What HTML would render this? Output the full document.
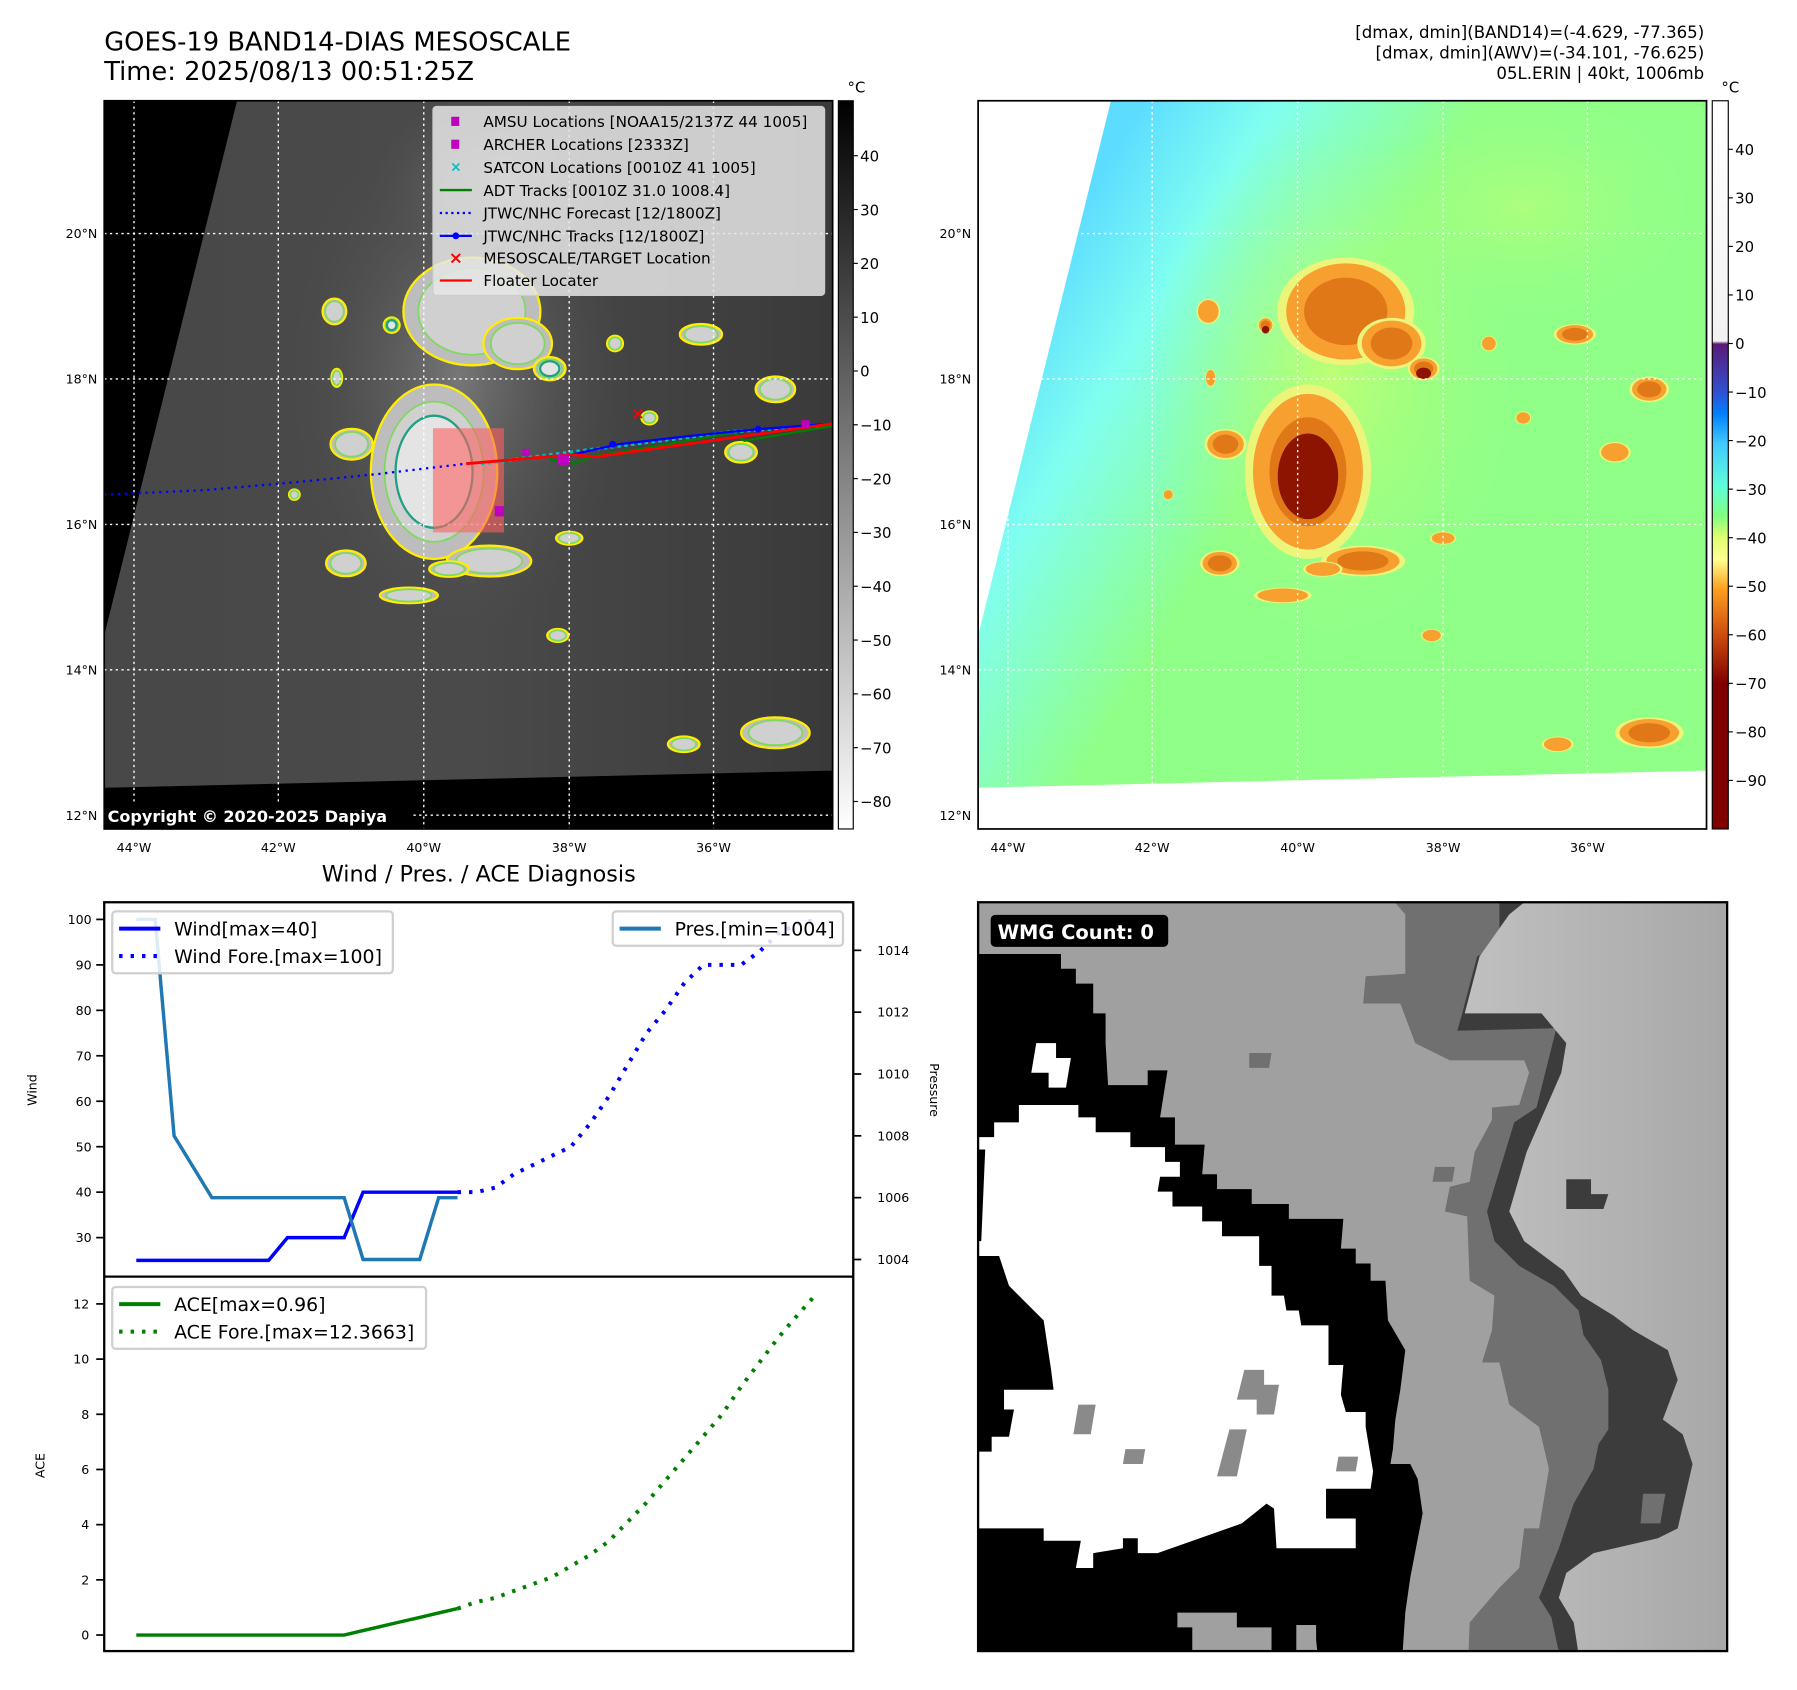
<!DOCTYPE html>
<html><head><meta charset="utf-8"><style>
html,body{margin:0;padding:0;background:#fff;}
svg{display:block;}
text{font-family:"DejaVu Sans","Liberation Sans",sans-serif;}
</style></head><body>
<svg id="fig" xmlns="http://www.w3.org/2000/svg" width="1797" height="1690" viewBox="0 0 1569 1476" preserveAspectRatio="none">
<defs>
<linearGradient id="cb1" x1="0" y1="0" x2="0" y2="1"><stop offset="0" stop-color="#000"/><stop offset="1" stop-color="#fff"/></linearGradient>
<linearGradient id="cb2" gradientUnits="userSpaceOnUse" x1="0" y1="88" x2="0" y2="724">
<stop offset="0" stop-color="#ffffff"/><stop offset="0.33" stop-color="#f2f2f2"/>
<stop offset="0.334" stop-color="#5a1a78"/>
<stop offset="0.40" stop-color="#3050d0"/><stop offset="0.43" stop-color="#0080ff"/>
<stop offset="0.47" stop-color="#40c8ff"/><stop offset="0.53" stop-color="#60ffd8"/>
<stop offset="0.57" stop-color="#80ff80"/><stop offset="0.60" stop-color="#e0ff70"/>
<stop offset="0.63" stop-color="#ffff90"/><stop offset="0.67" stop-color="#ffa020"/>
<stop offset="0.73" stop-color="#d05010"/><stop offset="0.80" stop-color="#800000"/>
<stop offset="1" stop-color="#800000"/></linearGradient>
<linearGradient id="m2bg" gradientUnits="userSpaceOnUse" x1="900" y1="250" x2="1120" y2="380">
<stop offset="0" stop-color="#5cdcff"/><stop offset="0.4" stop-color="#80fff0"/><stop offset="1" stop-color="#90ff88"/></linearGradient>
<linearGradient id="m1bg" gradientUnits="userSpaceOnUse" x1="100" y1="0" x2="727" y2="0">
<stop offset="0" stop-color="#484848"/><stop offset="0.5" stop-color="#4a4a4a"/><stop offset="1" stop-color="#3a3a3a"/></linearGradient>
<radialGradient id="m1glow" cx="0.5" cy="0.5" r="0.5"><stop offset="0" stop-color="#8a8a8a"/><stop offset="1" stop-color="#505050" stop-opacity="0"/></radialGradient>
<radialGradient id="m2glow" cx="0.5" cy="0.5" r="0.5"><stop offset="0" stop-color="#c8ff70"/><stop offset="1" stop-color="#a0ff80" stop-opacity="0"/></radialGradient>
<linearGradient id="wmgLight" x1="0" y1="0" x2="1" y2="0"><stop offset="0" stop-color="#c0c0c0"/><stop offset="1" stop-color="#a4a4a4"/></linearGradient>
<clipPath id="clipM1"><rect x="91" y="88" width="636" height="636"/></clipPath>
<clipPath id="clipM2"><rect x="854" y="88" width="636" height="636"/></clipPath>
<clipPath id="clipC1"><rect x="91" y="788" width="654" height="327"/></clipPath>
<clipPath id="clipC2"><rect x="91" y="1115" width="654" height="327"/></clipPath>
<clipPath id="clipW"><rect x="854" y="788" width="654" height="654"/></clipPath>
</defs>

<text x="91" y="44" font-size="22.5">GOES-19 BAND14-DIAS MESOSCALE</text>
<text x="91" y="70" font-size="22.5">Time: 2025/08/13 00:51:25Z</text>
<g font-size="14.5" text-anchor="end">
<text x="1488" y="33">[dmax, dmin](BAND14)=(-4.629, -77.365)</text>
<text x="1488" y="51">[dmax, dmin](AWV)=(-34.101, -76.625)</text>
<text x="1488" y="69">05L.ERIN | 40kt, 1006mb</text>
</g>

<!-- MAP 1 -->
<g clip-path="url(#clipM1)">
<rect x="91" y="88" width="636" height="636" fill="#000"/>
<polygon points="207,88 727,88 727,673 91,688 91,555" fill="url(#m1bg)"/>
<g id="m1blobs"></g>
<g id="m1grid"></g>
<rect x="378" y="374" width="62" height="91" fill="#ff6060" fill-opacity="0.6"/>
<polyline points="91,432 180,428 260,421 330,414 407,405" fill="none" stroke="#0000ff" stroke-width="2" stroke-dasharray="2,4"/>
<polyline points="420,405 560,387 640,377 727,371" fill="none" stroke="#00c0c0" stroke-width="3" stroke-dasharray="3,3"/>
<polyline points="480,401 500,405 520,398 560,392 640,378 650,385 727,372" fill="none" stroke="#008000" stroke-width="2"/>
<polyline points="495,398 540,388 600,381 660,375 727,370" fill="none" stroke="#0000ff" stroke-width="2"/>
<circle cx="535" cy="388" r="3" fill="#0000ff"/><circle cx="662" cy="375" r="3" fill="#0000ff"/>
<polyline points="407,405 500,397 520,399 727,370" fill="none" stroke="#ff0000" stroke-width="2.5"/>
<rect x="432" y="442" width="8" height="9" fill="#c000c0"/>
<rect x="487" y="397" width="10" height="9" fill="#c000c0"/>
<rect x="456" y="392" width="6" height="6" fill="#c000c0"/>
<rect x="700" y="367" width="7" height="7" fill="#c000c0"/>
<text x="557" y="366" font-size="14" fill="#ff0000" text-anchor="middle" font-weight="bold">×</text>
<rect x="91" y="700" width="270" height="24" fill="#000"/>
<text x="94" y="718" font-size="14" font-weight="bold" fill="#fff">Copyright © 2020-2025 Dapiya</text>
<g>
<rect x="378" y="93" width="342" height="165" rx="3" fill="#e6e6e6" fill-opacity="0.85" stroke="#cccccc"/>
<rect x="394" y="102" width="7" height="8" fill="#c000c0"/><text x="422" y="111" font-size="13.3">AMSU Locations [NOAA15/2137Z 44 1005]</text>
<rect x="394" y="122" width="7" height="8" fill="#c000c0"/><text x="422" y="131" font-size="13.3">ARCHER Locations [2333Z]</text>
<text x="398" y="150" font-size="12" fill="#00c0c0" text-anchor="middle" font-weight="bold">×</text><text x="422" y="151" font-size="13.3">SATCON Locations [0010Z 41 1005]</text>
<line x1="384" y1="166" x2="412" y2="166" stroke="#008000" stroke-width="2"/><text x="422" y="171" font-size="13.3">ADT Tracks [0010Z 31.0 1008.4]</text>
<line x1="384" y1="186" x2="412" y2="186" stroke="#0000ff" stroke-width="2" stroke-dasharray="2,3"/><text x="422" y="191" font-size="13.3">JTWC/NHC Forecast [12/1800Z]</text>
<line x1="384" y1="206" x2="412" y2="206" stroke="#0000ff" stroke-width="2"/><circle cx="398" cy="206" r="3" fill="#0000ff"/><text x="422" y="211" font-size="13.3">JTWC/NHC Tracks [12/1800Z]</text>
<text x="398" y="230" font-size="15" fill="#ff0000" text-anchor="middle" font-weight="bold">×</text><text x="422" y="230" font-size="13.3">MESOSCALE/TARGET Location</text>
<line x1="384" y1="245" x2="412" y2="245" stroke="#ff0000" stroke-width="2"/><text x="422" y="250" font-size="13.3">Floater Locater</text>
</g>
</g>
<rect x="91" y="88" width="636" height="636" fill="none" stroke="#000" stroke-width="1.5"/>
<rect x="732" y="88" width="13" height="636" fill="url(#cb1)" stroke="#000" stroke-width="1"/>
<text x="740" y="81" font-size="13">°C</text>
<g id="cb1ticks" font-size="13"></g>

<!-- MAP 2 -->
<g clip-path="url(#clipM2)">
<rect x="854" y="88" width="636" height="636" fill="#fff"/>
<polygon points="970,88 1490,88 1490,673 854,688 854,555" fill="url(#m2bg)"/>
<g id="m2blobs"></g>
<g id="m2grid"></g>
</g>
<rect x="854" y="88" width="636" height="636" fill="none" stroke="#000" stroke-width="1.5"/>
<rect x="1495" y="88" width="14" height="636" fill="url(#cb2)" stroke="#000" stroke-width="1"/>
<text x="1503" y="81" font-size="13">°C</text>
<g id="cb2ticks" font-size="13"></g>
<g id="maplabels" font-size="11"></g>

<!-- CHART -->
<text x="418" y="770" font-size="19.5" text-anchor="middle">Wind / Pres. / ACE Diagnosis</text>
<g id="chart"></g>
<rect x="91" y="788" width="654" height="654" fill="none" stroke="#000" stroke-width="2"/>
<line x1="91" y1="1115" x2="745" y2="1115" stroke="#000" stroke-width="2"/>

<!-- WMG -->
<g clip-path="url(#clipW)">
<g transform="translate(850.7,781.25) scale(0.4325)">
<rect x="0" y="0" width="1600" height="1600" fill="#a0a0a0"/>
<polygon points="835,0 870,40 870,160 790,165 785,220 860,220 890,300 960,335 1110,335 1120,360 1100,425 1045,430 1045,455 1010,520 1000,580 960,590 950,640 995,650 1000,780 1050,810 1045,880 1025,945 1060,945 1080,1030 1140,1075 1160,1160 1140,1280 1110,1280 1100,1360 1060,1400 1000,1470 995,1600 1600,1600 1600,0" fill="#707070"/>
<polygon points="1000,0 1060,0 1060,100 1015,125 985,240 975,275 1175,270 1160,330 1135,430 1090,460 1035,640 1050,700 1100,750 1170,790 1220,840 1230,890 1265,940 1280,1000 1280,1080 1260,1110 1250,1160 1210,1230 1180,1320 1140,1420 1165,1460 1195,1600 1600,1600 1600,0" fill="#3c3c3c"/>
<polygon points="1130,0 1080,40 1020,125 990,240 1145,240 1170,270 1195,300 1185,360 1150,440 1115,520 1080,640 1110,700 1190,760 1225,810 1290,850 1330,880 1400,920 1420,980 1390,1060 1430,1090 1450,1150 1420,1280 1380,1300 1250,1330 1195,1370 1180,1420 1210,1470 1230,1600 1600,1600 1600,0" fill="url(#wmgLight)"/>
<polygon points="1195,575 1245,575 1245,605 1280,605 1270,635 1195,635" fill="#3c3c3c"/>
<polygon points="1350,1210 1395,1210 1385,1270 1345,1270" fill="#707070"/>
<polygon points="555,320 600,320 595,350 555,350" fill="#707070"/>
<polygon points="930,550 970,550 965,580 925,580" fill="#707070"/>
<polygon points="0,120 175,120 175,150 205,150 205,180 240,180 240,240 265,240 265,300 270,385 350,385 350,355 390,355 375,450 405,450 405,505 465,505 460,565 490,565 490,595 560,595 560,625 635,625 635,655 745,655 740,715 770,715 770,745 800,745 800,780 830,780 835,860 870,920 860,1000 850,1060 845,1120 840,1150 880,1150 895,1180 905,1250 880,1380 870,1450 860,1600 0,1600" fill="#000"/>
<polygon points="410,1450 530,1450 530,1480 600,1480 600,1600 440,1600 440,1480 410,1480" fill="#a0a0a0"/>
<polygon points="650,1475 690,1475 690,1505 700,1600 650,1600" fill="#a0a0a0"/>
<polygon points="0,490 40,490 40,460 90,460 90,425 210,425 210,450 245,450 245,480 315,480 315,510 385,510 385,540 415,540 415,570 375,570 370,600 400,600 400,630 460,630 460,660 500,660 500,690 575,690 575,750 600,750 600,810 625,810 630,840 655,840 660,870 715,870 715,950 745,950 740,1010 750,1045 790,1045 790,1075 805,1165 800,1200 710,1200 710,1260 770,1260 770,1320 610,1320 605,1240 590,1230 540,1270 370,1330 330,1330 330,1300 300,1300 300,1320 240,1330 240,1360 205,1360 215,1305 140,1305 140,1280 0,1280" fill="#fff"/>
<polygon points="0,515 22,515 14,700 0,700" fill="#000"/>
<polygon points="0,730 50,730 70,790 100,820 140,860 155,960 160,1000 60,1000 60,1040 80,1040 70,1095 35,1095 35,1125 0,1125" fill="#000"/>
<polygon points="125,300 165,300 165,330 195,330 185,390 150,390 150,360 115,360" fill="#fff"/>
<polygon points="545,960 585,960 585,990 615,990 605,1050 570,1050 570,1020 530,1020" fill="#8a8a8a"/>
<polygon points="210,1030 245,1030 235,1090 200,1090" fill="#8a8a8a"/>
<polygon points="305,1120 345,1120 340,1150 300,1150" fill="#8a8a8a"/>
<polygon points="515,1080 550,1080 530,1175 490,1175" fill="#8a8a8a"/>
<polygon points="735,1135 775,1135 770,1165 730,1165" fill="#8a8a8a"/>
</g>
<rect x="865" y="799" width="155" height="28" rx="4" fill="#000"/>
<text x="871" y="820" font-size="17" font-weight="bold" fill="#fff">WMG Count: 0</text>
</g>
<rect x="854" y="788" width="654" height="654" fill="none" stroke="#000" stroke-width="2"/>
</svg>

<script>
// ===== chart data =====
const windHist = [25,25,25,25,25,25,25,25,30,30,30,30,40,40,40,40,40,40];
const presHist = [1015,1015,1008,1007,1006,1006,1006,1006,1006,1006,1006,1006,1004,1004,1004,1004,1006,1006];
const aceHist = [0,0,0,0,0,0,0,0,0,0,0,0,0.16,0.32,0.48,0.64,0.8,0.96];
const windFore = [40,40,41,44,46,48,50,55,61,68,75,80,86,90,90,90,93,97,99,100];
const aceFore = [0.96,1.2,1.35,1.6,1.85,2.1,2.5,2.9,3.4,4.1,4.8,5.6,6.4,7.2,8.0,9.0,9.9,10.8,11.6,12.37];
const windTicks = [30,40,50,60,70,80,90,100];
const presTicks = [1004,1006,1008,1010,1012,1014];
const aceTicks = [0,2,4,6,8,10,12];
const cb1Ticks = [40,30,20,10,0,-10,-20,-30,-40,-50,-60,-70,-80];
const cb2Ticks = [40,30,20,10,0,-10,-20,-30,-40,-50,-60,-70,-80,-90];
const lonTicks = ['44°W','42°W','40°W','38°W','36°W'];
const latTicks = ['20°N','18°N','16°N','14°N','12°N'];

const NS='http://www.w3.org/2000/svg';
function mk(parent,tag,attrs,txt){const e=document.createElementNS(NS,tag);for(const k in attrs)e.setAttribute(k,attrs[k]);if(txt!==undefined)e.textContent=txt;parent.appendChild(e);return e;}

const xS = i => 119 + i*16.5;
const yWind = v => 803 + (100-v)*3.97;
const yPres = p => 1100 - (p-1004)*27;
const yAce = v => 1428 - v*24.1;
const yCb1 = v => 324 - v*4.7;
const yCb2 = v => 300 - v*4.24;

const cb1=document.getElementById('cb1ticks');
cb1Ticks.forEach(v=>{
  const y=yCb1(v);
  mk(cb1,'line',{x1:745,y1:y,x2:749,y2:y,stroke:'#000'});
  const t=mk(cb1,'text',{x:751,y:y+5},String(v).replace('-','−'));
  
  
});
const cb2=document.getElementById('cb2ticks');
cb2Ticks.forEach(v=>{
  const y=yCb2(v);
  mk(cb2,'line',{x1:1509,y1:y,x2:1513,y2:y,stroke:'#000'});
  const t=mk(cb2,'text',{x:1515,y:y+5},String(v).replace('-','−'));
  
  
});

const lonX=[117,243,370,497,623], latY=[204,331,458,585,712];
[['m1grid',0],['m2grid',763]].forEach(([id,off])=>{
  const g=document.getElementById(id);
  lonX.forEach(x=>mk(g,'line',{x1:x+off,y1:88,x2:x+off,y2:724,stroke:'#fff','stroke-width':1.2,'stroke-dasharray':'2,3'}));
  latY.forEach(y=>mk(g,'line',{x1:91+off,y1:y,x2:727+off,y2:y,stroke:'#fff','stroke-width':1.2,'stroke-dasharray':'2,3'}));
});
const ml=document.getElementById('maplabels');
[0,763].forEach(off=>{
  lonTicks.forEach((s,i)=>{const t=mk(ml,'text',{x:lonX[i]+off,y:744,'text-anchor':'middle'},s);
    });
  latTicks.forEach((s,i)=>{const t=mk(ml,'text',{x:85+off,y:latY[i]+4,'text-anchor':'end'},s);
    });
});

const blobs=[[1142,412,48,68,3],[1175,272,52,42,2],[1215,300,26,20,2],[1243,322,12,9,3],[1105,284,6,6,3],
[1055,272,9,10,1],[1070,388,16,12,2],[1065,492,15,10,2],[1057,330,4,7,1],[1190,490,32,12,2],[1155,497,15,6,1],
[1120,520,22,6,1],[1260,470,10,5,1],[1375,292,16,8,2],[1440,340,15,10,2],[1410,395,12,8,1],[1440,640,26,12,2],
[1330,365,6,5,1],[1360,650,12,6,1],[1250,555,8,5,1],[1300,300,6,6,1],[1020,432,4,4,1]];
const m1=document.getElementById('m1blobs'), m2=document.getElementById('m2blobs');
mk(m1,'ellipse',{cx:400,cy:330,rx:150,ry:230,fill:'url(#m1glow)',opacity:0.7});
mk(m1,'ellipse',{cx:440,cy:160,rx:120,ry:90,fill:'url(#m1glow)',opacity:0.7});
mk(m2,'ellipse',{cx:1163,cy:330,rx:160,ry:230,fill:'url(#m2glow)',opacity:0.8});
mk(m2,'ellipse',{cx:1330,cy:180,rx:150,ry:100,fill:'url(#m2glow)',opacity:0.5});
blobs.forEach(b=>{
  const [cx,cy,rx,ry,l]=b;
  mk(m2,'ellipse',{cx:cx,cy:cy,rx:rx*1.15,ry:ry*1.12,fill:'#ecf57a'});
  mk(m2,'ellipse',{cx:cx,cy:cy,rx:rx,ry:ry,fill:'#f7a030'});
  if(l>=2) mk(m2,'ellipse',{cx:cx,cy:cy,rx:rx*0.7,ry:ry*0.7,fill:'#e07818'});
  if(l>=3) mk(m2,'ellipse',{cx:cx,cy:cy+4,rx:rx*0.55,ry:ry*0.55,fill:'#8c1400'});
  const x1=cx-763;
  mk(m1,'ellipse',{cx:x1,cy:cy,rx:rx*1.15,ry:ry*1.12,fill:'#bdbdbd',stroke:'#ffee00','stroke-width':2});
  mk(m1,'ellipse',{cx:x1,cy:cy,rx:rx*0.9,ry:ry*0.9,fill:'#d0d0d0',stroke:'#7fd860','stroke-width':1.5});
  if(l>=3) mk(m1,'ellipse',{cx:x1,cy:cy,rx:rx*0.7,ry:ry*0.72,fill:'#e4e4e4',stroke:'#20a080','stroke-width':2});
});

const ch=document.getElementById('chart');
const g1=mk(ch,'g',{'clip-path':'url(#clipC1)'});
const g2=mk(ch,'g',{'clip-path':'url(#clipC2)'});
function pts(arr,start,yf){return arr.map((v,i)=>xS(start+i).toFixed(1)+','+yf(v).toFixed(1)).join(' ');}
const nH=windHist.length-1;
let e;
e=mk(g1,'polyline',{points:pts(windHist,0,yWind),fill:'none',stroke:'#0000ff','stroke-width':3});

e=mk(g1,'polyline',{points:pts(windFore,nH,yWind),fill:'none',stroke:'#0000ff','stroke-width':3.5,'stroke-dasharray':'3,7'});

e=mk(g1,'polyline',{points:pts(presHist,0,yPres),fill:'none',stroke:'#1f77b4','stroke-width':3});

e=mk(g2,'polyline',{points:pts(aceHist,0,yAce),fill:'none',stroke:'#008000','stroke-width':3});

e=mk(g2,'polyline',{points:pts(aceFore,nH,yAce),fill:'none',stroke:'#008000','stroke-width':3.5,'stroke-dasharray':'3,7'});


windTicks.forEach(v=>{const y=yWind(v);mk(ch,'line',{x1:84,y1:y,x2:91,y2:y,stroke:'#000','stroke-width':1.5});
  const t=mk(ch,'text',{x:80,y:y+4,'font-size':11,'text-anchor':'end'},v);
  });
presTicks.forEach(v=>{const y=yPres(v);mk(ch,'line',{x1:745,y1:y,x2:752,y2:y,stroke:'#000','stroke-width':1.5});
  const t=mk(ch,'text',{x:766,y:y+4,'font-size':11},v);
  });
aceTicks.forEach(v=>{const y=yAce(v);mk(ch,'line',{x1:84,y1:y,x2:91,y2:y,stroke:'#000','stroke-width':1.5});
  const t=mk(ch,'text',{x:78,y:y+4,'font-size':11,'text-anchor':'end'},v);
  });
e=mk(ch,'text',{x:32,y:952,'font-size':11,'text-anchor':'middle',transform:'rotate(-90 32 952)'},'Wind');

e=mk(ch,'text',{x:812,y:952,'font-size':11,'text-anchor':'middle',transform:'rotate(90 812 952)'},'Pressure');

e=mk(ch,'text',{x:39,y:1280,'font-size':11,'text-anchor':'middle',transform:'rotate(-90 39 1280)'},'ACE');


function legend(x,y,w,h,items,name){
  const g=mk(ch,'g',{});
  
  
  mk(g,'rect',{x:x,y:y,width:w,height:h,rx:3,fill:'#fff','fill-opacity':0.85,stroke:'#d0d0d0','stroke-width':2});
  items.forEach((it,i)=>{const yy=y+15+i*24;
    mk(g,'line',{x1:x+6,y1:yy,x2:x+42,y2:yy,stroke:it[1],'stroke-width':3.5,'stroke-dasharray':it[2]?'3,7':'none'});
    mk(g,'text',{x:x+54,y:yy+6,'font-size':16.5},it[0]);});
}
legend(98,796,245,54,[['Wind[max=40]','#0000ff',0],['Wind Fore.[max=100]','#0000ff',1]],'wind-legend');
legend(535,796,201,30,[['Pres.[min=1004]','#1f77b4',0]],'pressure-legend');
legend(98,1124,274,54,[['ACE[max=0.96]','#008000',0],['ACE Fore.[max=12.3663]','#008000',1]],'ace-legend');
</script>
</body></html>
